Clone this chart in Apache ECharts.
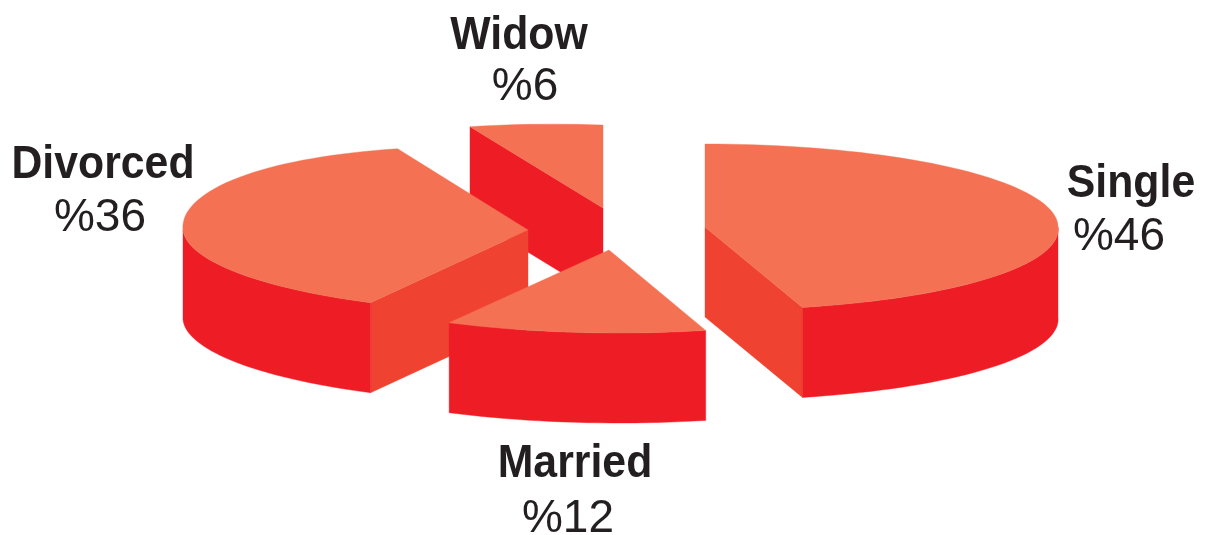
<!DOCTYPE html>
<html>
<head>
<meta charset="utf-8">
<style>html,body{margin:0;padding:0;background:#fff}#c{width:1206px;height:535px}</style>
<script src="https://cdn.jsdelivr.net/npm/echarts@6/dist/echarts.min.js"></script>
</head>
<body>
<div id="c"></div>
<script>
// Data, clockwise from twelve o'clock
const categories = ['Single', 'Married', 'Divorced', 'Widow'];
const values = [46, 12, 36, 6];

// Layout and style of the exploded, tilted pie
const sliceCentreX = [705, 609, 528, 603];
const sliceCentreY = [227, 250, 230, 208];
const radiusX = [353, 350, 345, 352];
const radiusY = 83;
const depth = 90;
const frontSkew = 10;
const backSkewX = 10;
const backSkewY = 12;
const paintOrder = [3, 2, 0, 1];
const topColor = '#f47153';
const wallColor = '#ee1d25';
const faceColors = ['#f04230', '#f04230', '#f04230', '#ee1d25'];
const labelX = [1131, 575, 103, 519];
const labelY = [184, 464, 165, 36];
const valueX = [1119, 568, 100, 525];
const valueY = [237, 519, 218, 87];
const nameFont = 'bold 46px "Liberation Sans", Arial, sans-serif';
const nameSqueeze = 0.93;
const valueFont = '46px "Liberation Sans", Arial, sans-serif';
const textColor = '#231f20';

const total = values.reduce((a, b) => a + b, 0);
const startAngles = [];
values.reduce((acc, v, i) => { startAngles[i] = acc; return acc - v / total * 360; }, 90);
const rad = d => d * Math.PI / 180;

function renderSlice(params, api) {
  const i = api.value(0);
  const v = api.value(1);
  const a0 = startAngles[i];
  const a1 = a0 - v / total * 360;
  const cx = sliceCentreX[i], cy = sliceCentreY[i], rx = radiusX[i];
  const pt = (a, dz) => {
    const co = Math.cos(rad(a)), si = Math.sin(rad(a));
    const front = Math.max(0, -si), back = Math.max(0, -co) * Math.max(0, si);
    return [
      cx + rx * co + frontSkew * front - backSkewX * back,
      cy - radiusY * si - backSkewY * back + (dz || 0)
    ];
  };
  const arc = (from, to, dz) => {
    const n = Math.max(2, Math.ceil(Math.abs(to - from) / 2));
    const out = [];
    for (let k = 0; k <= n; k++) out.push(pt(from + (to - from) * k / n, dz));
    return out;
  };
  const poly = (points, fill) => ({
    type: 'polygon',
    shape: { points },
    style: { fill, stroke: fill, lineWidth: 0.4 }
  });
  const children = [];
  const c = [cx, cy], cb = [cx, cy + depth];
  // Radial faces that turn toward the viewer
  if (Math.sin(rad(a0 + 90)) < -1e-6) {
    children.push(poly([c, pt(a0), pt(a0, depth), cb], faceColors[i]));
  }
  if (Math.sin(rad(a1 - 90)) < -1e-6) {
    children.push(poly([c, pt(a1), pt(a1, depth), cb], faceColors[i]));
  }
  // Outer wall: only the part of the rim on the near side
  const wStart = Math.min(a0, 0), wEnd = Math.max(a1, -180);
  if (wStart > wEnd) {
    children.push(poly(arc(wStart, wEnd, 0).concat(arc(wEnd, wStart, depth)), wallColor));
  }
  // Top surface
  children.push(poly([c].concat(arc(a0, a1, 0)), topColor));
  // Labels
  children.push({
    type: 'text',
    x: labelX[i], y: labelY[i], scaleX: nameSqueeze,
    style: { text: categories[i], font: nameFont, fill: textColor, align: 'center', verticalAlign: 'middle' }
  });
  children.push({
    type: 'text',
    x: valueX[i], y: valueY[i],
    style: { text: '%' + v, font: valueFont, fill: textColor, align: 'center', verticalAlign: 'middle' }
  });
  return { type: 'group', children };
}

const chart = echarts.init(document.getElementById('c'), null, { renderer: 'canvas' });
chart.setOption({
  animation: false,
  backgroundColor: '#ffffff',
  series: [{
    type: 'custom',
    coordinateSystem: 'none',
    renderItem: renderSlice,
    silent: true,
    data: paintOrder.map(i => [i, values[i]])
  }]
});
</script>
</body>
</html>
